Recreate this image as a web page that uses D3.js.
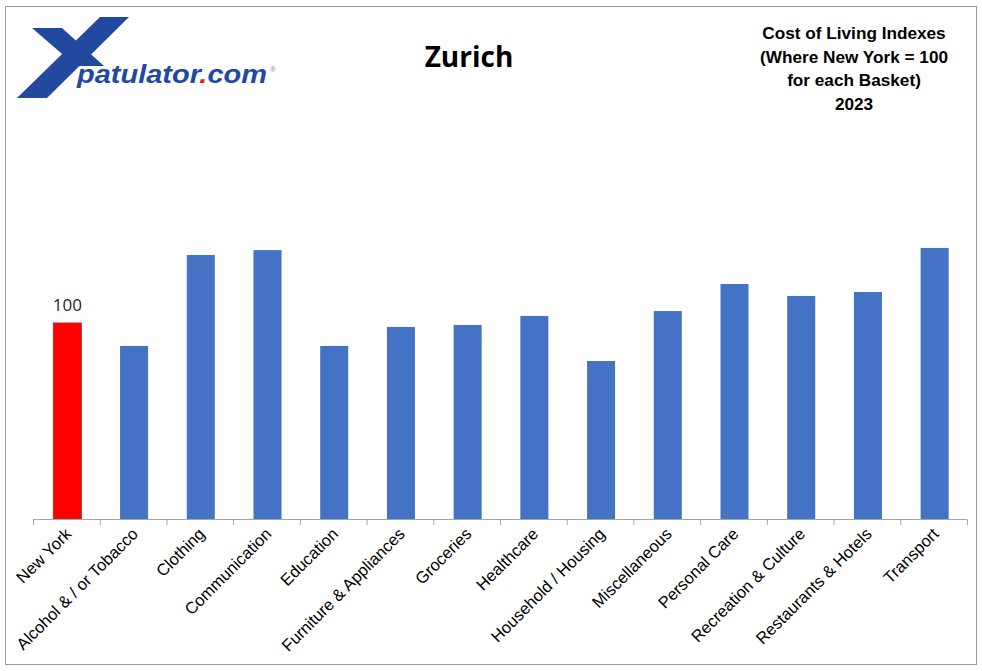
<!DOCTYPE html>
<html>
<head>
<meta charset="utf-8">
<script src="https://cdn.jsdelivr.net/npm/d3@7"></script>
<style>
  body { margin: 0; background: #fff; }
  svg { display: block; }
</style>
</head>
<body>
<svg id="chart" width="982" height="671"></svg>
<script>
// Data (New York = 100)
const categories = ["New York", "Alcohol & / or Tobacco", "Clothing", "Communication", "Education",
    "Furniture & Appliances", "Groceries", "Healthcare", "Household / Housing", "Miscellaneous",
    "Personal Care", "Recreation & Culture", "Restaurants & Hotels", "Transport"];
const values = [100, 88.3, 134.7, 137.2, 88.3, 98.0, 99.0, 103.6, 80.6, 106.1, 119.9, 113.8, 115.8, 138.3];
const titleText = "Zurich";
const subtitleLines = ["Cost of Living Indexes", "(Where New York = 100", "for each Basket)", "2023"];

const svg = d3.select("#chart");

// Outer frame
svg.append("rect")
    .attr("x", 5.5).attr("y", 6.5)
    .attr("width", 971).attr("height", 658)
    .attr("fill", "#fff")
    .attr("stroke", "#9a9a9a")
    .attr("stroke-width", 1);

// Scales
const x = d3.scaleBand()
    .domain(categories)
    .range([33, 967])
    .paddingInner(0.58)
    .paddingOuter(0.29);

const y = d3.scaleLinear()
    .domain([0, 100])
    .range([519, 323]);

// Bars
svg.append("g")
    .selectAll("rect")
    .data(categories)
    .enter()
    .append("rect")
    .attr("x", d => x(d) + 1)
    .attr("width", x.bandwidth())
    .attr("y", (d, i) => y(values[i]))
    .attr("height", (d, i) => y(0) - y(values[i]))
    .attr("fill", (d, i) => i === 0 ? "#ff0000" : "#4472c4")
    .attr("stroke", (d, i) => i === 0 ? "#b03030" : "none")
    .attr("stroke-width", 1);

// Label on the New York bar
svg.append("text")
    .attr("x", x(categories[0]) + x.bandwidth() / 2 + 1)
    .attr("y", y(values[0]) - 12)
    .attr("text-anchor", "middle")
    .style("font-family", "'Open Sans', 'Noto Sans', sans-serif")
    .style("font-size", "17px")
    .style("fill", "#262626")
    .text(values[0]);

// X axis: line + ticks at band boundaries
const step = x.step();
const axisG = svg.append("g");
axisG.append("line")
    .attr("x1", 33).attr("x2", 967)
    .attr("y1", 519.5).attr("y2", 519.5)
    .attr("stroke", "#a6a6a6");
axisG.selectAll(".tick")
    .data(d3.range(categories.length + 1))
    .enter()
    .append("line")
    .attr("x1", i => 33 + i * step + 0.5)
    .attr("x2", i => 33 + i * step + 0.5)
    .attr("y1", 519.5).attr("y2", 525)
    .attr("stroke", "#a6a6a6");

// Rotated category labels
axisG.selectAll(".lbl")
    .data(categories)
    .enter()
    .append("text")
    .attr("transform", d => `translate(${x(d) + x.bandwidth() / 2 + 6},${535}) rotate(-45)`)
    .attr("text-anchor", "end")
    .style("font-family", "'Liberation Sans', Arial, sans-serif")
    .style("font-size", "16.5px")
    .style("fill", "#000")
    .text(d => d);

// Title
svg.append("text")
    .attr("x", 469).attr("y", 67)
    .attr("text-anchor", "middle")
    .style("font-family", "'Open Sans', 'Noto Sans', sans-serif")
    .style("font-weight", "bold")
    .style("font-size", "28px")
    .style("fill", "#000")
    .text(titleText);

// Subtitle block (top right)
svg.append("g")
    .selectAll("text")
    .data(subtitleLines)
    .enter()
    .append("text")
    .attr("x", 854)
    .attr("y", (d, i) => 39 + i * 23.5)
    .attr("text-anchor", "middle")
    .style("font-family", "'Liberation Sans', Arial, sans-serif")
    .style("font-weight", "bold")
    .style("font-size", "17.2px")
    .style("fill", "#000")
    .text(d => d);

// Logo: blue X and "patulator.com"
const logo = svg.append("g");
const logoBlue = "#2149a0";
logo.append("path")
    .attr("d", "M100,17 L129,17 L47,98 L17,98 Z")
    .attr("fill", logoBlue);
logo.append("path")
    .attr("d", "M32,28 L62,28 L104,66 L76,66 Z")
    .attr("fill", logoBlue);
const logoText = logo.append("text")
    .attr("x", 77).attr("y", 83)
    .attr("textLength", 190)
    .attr("lengthAdjust", "spacingAndGlyphs")
    .style("font-family", "'Liberation Sans', Arial, sans-serif")
    .style("font-weight", "bold")
    .style("font-style", "italic")
    .style("font-size", "26px")
    .style("fill", logoBlue);
logoText.append("tspan").text("patulator");
logoText.append("tspan").style("fill", "#e0201b").text(".");
logoText.append("tspan").text("com");
logo.append("text")
    .attr("x", 270).attr("y", 72)
    .style("font-family", "'Liberation Sans', Arial, sans-serif")
    .style("font-size", "8px")
    .style("fill", "#7d8fbf")
    .text("\u00ae");
</script>
</body>
</html>
